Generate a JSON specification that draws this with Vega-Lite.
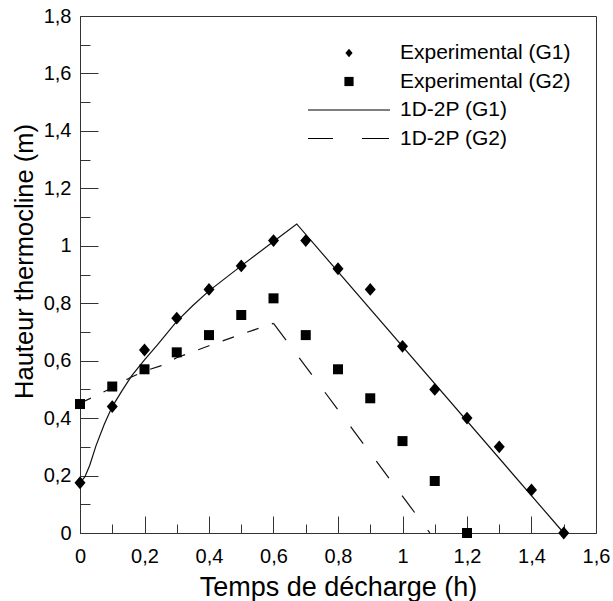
{
  "$schema": "https://vega.github.io/schema/vega-lite/v6.json",
  "width": 516,
  "height": 517,
  "autosize": {"type": "none"},
  "padding": {"left": 80, "top": 16, "right": 17, "bottom": 68},
  "background": "white",
  "config": {
    "view": {"stroke": "#333", "strokeWidth": 1},
    "font": "Liberation Sans",
    "axis": {"grid": false}
  },
  "data": {
    "values": [
      {"s": "Experimental (G1)", "t": 0, "h": 0.175},
      {"s": "Experimental (G1)", "t": 0.1, "h": 0.44},
      {"s": "Experimental (G1)", "t": 0.2, "h": 0.637},
      {"s": "Experimental (G1)", "t": 0.3, "h": 0.748},
      {"s": "Experimental (G1)", "t": 0.4, "h": 0.848},
      {"s": "Experimental (G1)", "t": 0.5, "h": 0.93},
      {"s": "Experimental (G1)", "t": 0.6, "h": 1.018},
      {"s": "Experimental (G1)", "t": 0.7, "h": 1.018},
      {"s": "Experimental (G1)", "t": 0.8, "h": 0.92},
      {"s": "Experimental (G1)", "t": 0.9, "h": 0.848},
      {"s": "Experimental (G1)", "t": 1.0, "h": 0.65},
      {"s": "Experimental (G1)", "t": 1.1, "h": 0.5},
      {"s": "Experimental (G1)", "t": 1.2, "h": 0.4},
      {"s": "Experimental (G1)", "t": 1.3, "h": 0.3},
      {"s": "Experimental (G1)", "t": 1.4, "h": 0.15},
      {"s": "Experimental (G1)", "t": 1.5, "h": 0},
      {"s": "Experimental (G2)", "t": 0, "h": 0.449},
      {"s": "Experimental (G2)", "t": 0.1, "h": 0.51},
      {"s": "Experimental (G2)", "t": 0.2, "h": 0.57},
      {"s": "Experimental (G2)", "t": 0.3, "h": 0.629},
      {"s": "Experimental (G2)", "t": 0.4, "h": 0.689},
      {"s": "Experimental (G2)", "t": 0.5, "h": 0.759},
      {"s": "Experimental (G2)", "t": 0.6, "h": 0.817},
      {"s": "Experimental (G2)", "t": 0.7, "h": 0.689},
      {"s": "Experimental (G2)", "t": 0.8, "h": 0.57},
      {"s": "Experimental (G2)", "t": 0.9, "h": 0.469},
      {"s": "Experimental (G2)", "t": 1.0, "h": 0.32},
      {"s": "Experimental (G2)", "t": 1.1, "h": 0.181},
      {"s": "Experimental (G2)", "t": 1.2, "h": 0},
      {"s": "1D-2P (G1)", "t": 0, "h": 0.175},
      {"s": "1D-2P (G1)", "t": 0.015, "h": 0.195},
      {"s": "1D-2P (G1)", "t": 0.03, "h": 0.235},
      {"s": "1D-2P (G1)", "t": 0.05, "h": 0.305},
      {"s": "1D-2P (G1)", "t": 0.075, "h": 0.378},
      {"s": "1D-2P (G1)", "t": 0.1, "h": 0.44},
      {"s": "1D-2P (G1)", "t": 0.13, "h": 0.495},
      {"s": "1D-2P (G1)", "t": 0.16, "h": 0.547},
      {"s": "1D-2P (G1)", "t": 0.2, "h": 0.603},
      {"s": "1D-2P (G1)", "t": 0.24, "h": 0.655},
      {"s": "1D-2P (G1)", "t": 0.3, "h": 0.737},
      {"s": "1D-2P (G1)", "t": 0.35, "h": 0.792},
      {"s": "1D-2P (G1)", "t": 0.4, "h": 0.843},
      {"s": "1D-2P (G1)", "t": 0.5, "h": 0.93},
      {"s": "1D-2P (G1)", "t": 0.6, "h": 1.015},
      {"s": "1D-2P (G1)", "t": 0.672, "h": 1.076},
      {"s": "1D-2P (G1)", "t": 1.5, "h": 0},
      {"s": "1D-2P (G2)", "t": 0, "h": 0.452},
      {"s": "1D-2P (G2)", "t": 0.05, "h": 0.478},
      {"s": "1D-2P (G2)", "t": 0.1, "h": 0.506},
      {"s": "1D-2P (G2)", "t": 0.158, "h": 0.542},
      {"s": "1D-2P (G2)", "t": 0.2, "h": 0.564},
      {"s": "1D-2P (G2)", "t": 0.25, "h": 0.582},
      {"s": "1D-2P (G2)", "t": 0.3, "h": 0.61},
      {"s": "1D-2P (G2)", "t": 0.35, "h": 0.631},
      {"s": "1D-2P (G2)", "t": 0.4, "h": 0.652},
      {"s": "1D-2P (G2)", "t": 0.5, "h": 0.692},
      {"s": "1D-2P (G2)", "t": 0.6, "h": 0.73},
      {"s": "1D-2P (G2)", "t": 1.085, "h": 0}
    ]
  },
  "resolve": {"axis": {"x": "independent", "y": "independent"}},
  "layer": [
    {
      "transform": [{"filter": "datum.s === '1D-2P (G1)'"}],
      "mark": {"type": "line", "color": "#111", "strokeWidth": 1.2, "clip": false},
      "encoding": {
        "x": {"field": "t", "type": "quantitative",
          "scale": {"domain": [0, 1.6], "nice": false, "zero": false},
          "axis": {"orient": "bottom", "values": [0, 0.2, 0.4, 0.6, 0.8, 1, 1.2, 1.4, 1.6],
            "labelExpr": "replace(format(datum.value, '.1~f'), '.', ',')",
            "tickSize": -17, "tickColor": "#333", "tickWidth": 1,
            "domainColor": "#333", "domainWidth": 1,
            "labelFont": "Liberation Sans", "labelFontSize": 20, "labelColor": "#000",
            "labelBaseline": "alphabetic", "labelPadding": 46, "labelFlush": false, "labelOverlap": false,
            "title": "Temps de décharge (h)", "titleFont": "Liberation Sans", "titleFontSize": 27,
            "titleFontWeight": "normal", "titleColor": "#000", "titleBaseline": "alphabetic",
            "titleX": 258, "titleY": 62, "titleAlign": "center"}},
        "y": {"field": "h", "type": "quantitative",
          "scale": {"domain": [0, 1.8], "nice": false, "zero": false},
          "axis": {"orient": "left", "values": [0, 0.2, 0.4, 0.6, 0.8, 1, 1.2, 1.4, 1.6, 1.8],
            "labelExpr": "replace(format(datum.value, '.1~f'), '.', ',')",
            "tickSize": -18, "tickColor": "#333", "tickWidth": 1,
            "domainColor": "#333", "domainWidth": 1,
            "labelFont": "Liberation Sans", "labelFontSize": 20, "labelColor": "#000",
            "labelBaseline": "middle", "labelAlign": "right", "labelPadding": 27, "labelFlush": false, "labelOverlap": false,
            "title": "Hauteur thermocline (m)", "titleFont": "Liberation Sans", "titleFontSize": 25.5,
            "titleFontWeight": "normal", "titleColor": "#000", "titleBaseline": "alphabetic",
            "titleAngle": -90, "titleX": -48, "titleY": 245, "titleAlign": "center"}}
      }
    },
    {
      "transform": [{"filter": "datum.s === '1D-2P (G2)' && datum.t <= 0.6"}],
      "mark": {"type": "line", "color": "#111", "strokeWidth": 1.2, "strokeDash": [12, 14], "clip": false},
      "encoding": {
        "x": {"field": "t", "type": "quantitative",
          "axis": {"orient": "bottom", "values": [0.1, 0.3, 0.5, 0.7, 0.9, 1.1, 1.3, 1.5],
            "labels": false, "domain": false, "grid": false, "title": null,
            "tickSize": -9, "tickColor": "#333", "tickWidth": 1}},
        "y": {"field": "h", "type": "quantitative",
          "axis": {"orient": "left", "values": [0.1, 0.3, 0.5, 0.7, 0.9, 1.1, 1.3, 1.5, 1.7],
            "labels": false, "domain": false, "grid": false, "title": null,
            "tickSize": -10, "tickColor": "#333", "tickWidth": 1}}
      }
    },
    {
      "transform": [{"filter": "datum.s === '1D-2P (G2)' && datum.t >= 0.6"}],
      "mark": {"type": "line", "color": "#111", "strokeWidth": 1.2, "strokeDash": [21, 22], "clip": false},
      "encoding": {
        "x": {"field": "t", "type": "quantitative", "axis": null},
        "y": {"field": "h", "type": "quantitative", "axis": null}
      }
    },
    {
      "transform": [{"filter": "datum.s === 'Experimental (G1)'"}],
      "mark": {"type": "point", "filled": true, "color": "#000", "opacity": 1, "size": 934, "clip": false},
      "encoding": {
        "x": {"field": "t", "type": "quantitative", "axis": null},
        "y": {"field": "h", "type": "quantitative", "axis": null},
        "shape": {"field": "s", "type": "nominal",
          "scale": {"domain": ["Experimental (G1)", "Experimental (G2)", "1D-2P (G1)", "1D-2P (G2)"],
            "range": ["M0,-0.42L0.36,0L0,0.42L-0.36,0Z", "M-0.46,-0.46H0.46V0.46H-0.46Z", "M-4.1,-0.06H4.1V0.06H-4.1Z", "M-4.1,-0.06H-1.6V0.06H-4.1ZM1.3,-0.06H4.0V0.06H1.3Z"]},
          "legend": {"title": null, "orient": "none", "legendX": 258.5, "legendY": 26.5, "padding": 0,
            "symbolSize": 400, "symbolOffset": 0, "labelOffset": 40.5, "rowPadding": 6.5,
            "labelFont": "Liberation Sans", "labelFontSize": 21, "labelColor": "#000", "labelLimit": 0,
            "labelBaseline": "middle",
            "symbolFillColor": "#000", "symbolStrokeWidth": 0, "symbolOpacity": 1}}
      }
    },
    {
      "transform": [{"filter": "datum.s === 'Experimental (G2)'"}],
      "mark": {"type": "point", "filled": true, "color": "#000", "opacity": 1, "size": 473, "clip": false},
      "encoding": {
        "x": {"field": "t", "type": "quantitative", "axis": null},
        "y": {"field": "h", "type": "quantitative", "axis": null},
        "shape": {"field": "s", "type": "nominal",
          "legend": {"title": null, "orient": "none", "legendX": 258.5, "legendY": 26.5, "padding": 0,
            "symbolSize": 400, "symbolOffset": 0, "labelOffset": 40.5, "rowPadding": 6.5,
            "labelFont": "Liberation Sans", "labelFontSize": 21, "labelColor": "#000", "labelLimit": 0,
            "labelBaseline": "middle",
            "symbolFillColor": "#000", "symbolStrokeWidth": 0, "symbolOpacity": 1}}
      }
    }
  ]
}
